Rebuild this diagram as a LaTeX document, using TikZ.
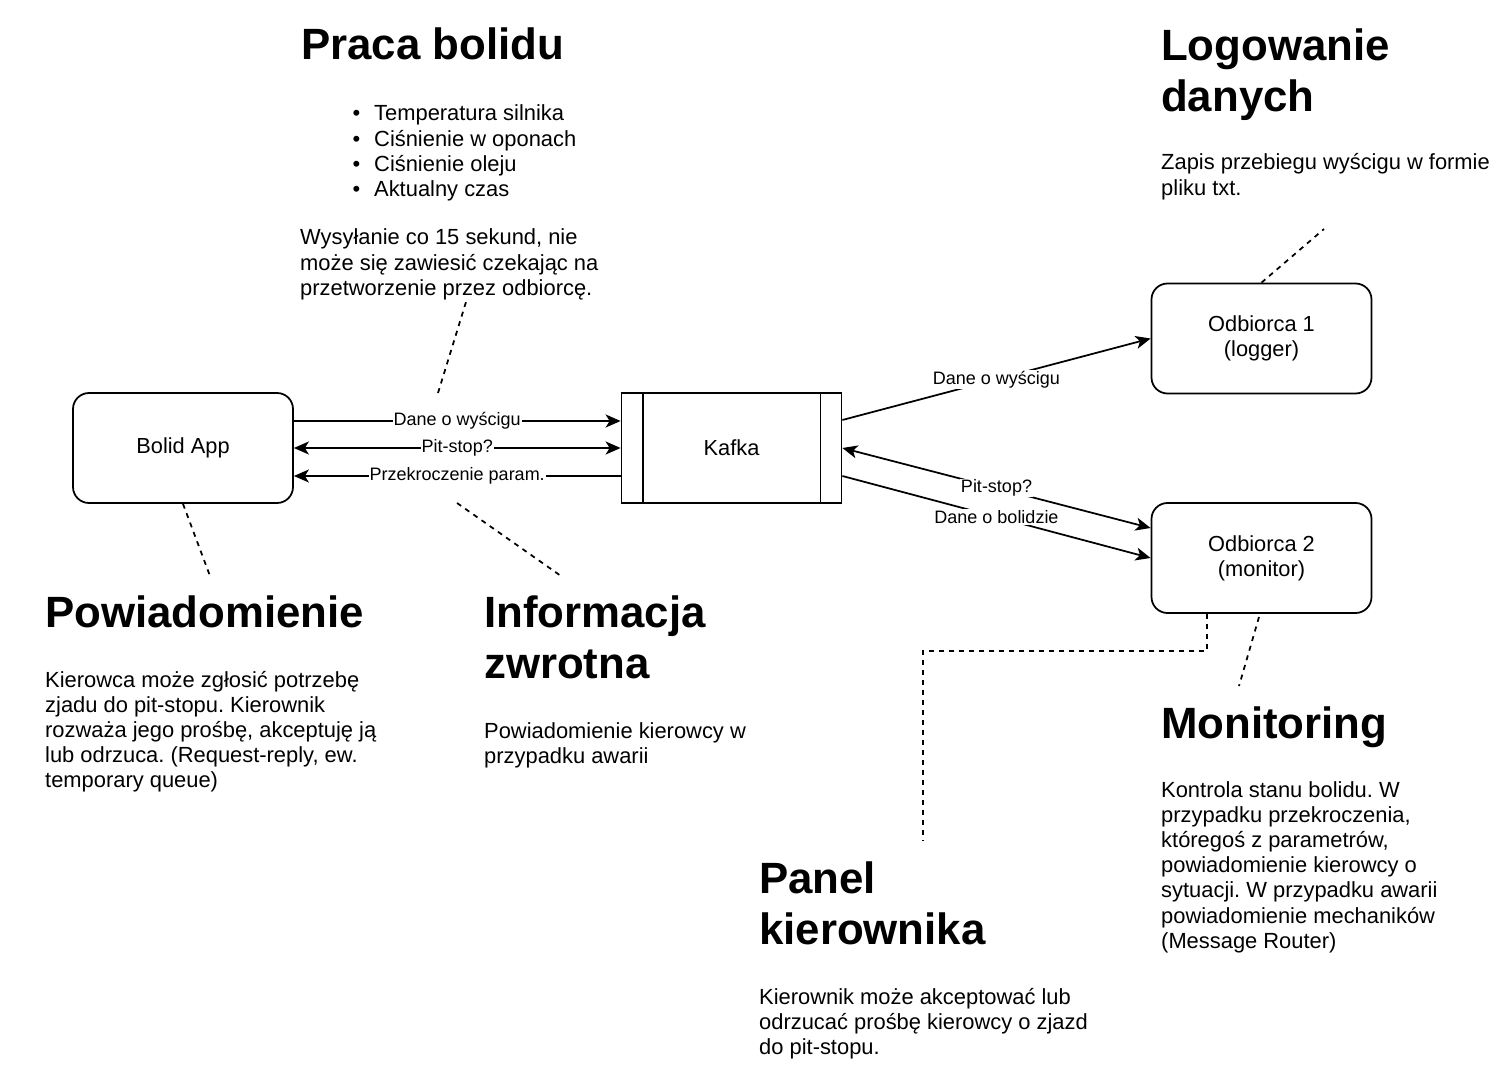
\documentclass[tikz,border=0pt]{standalone}
\usepackage{fontspec}
\setmainfont{Liberation Sans}
\usetikzlibrary{arrows.meta,calc}
\frenchspacing
\newcommand{\txtblk}[1]{\parbox[t]{520pt}{\raggedright\frenchspacing #1}}
\newcommand{\mybul}{\makebox[26pt][l]{\hspace{4.5pt}•}}
\begin{document}
\begin{tikzpicture}[x=1pt,y=-1pt,
  box/.style={draw, line width=1.75pt, rounded corners=16pt, minimum width=220pt, minimum height=110pt, inner sep=0pt, align=center, font=\fontsize{21.8}{25}\selectfont},
  edge/.style={line width=1.75pt},
  tip/.tip={Stealth[length=15pt,width=13pt,inset=4pt]},
  lbl/.style={fill=white, inner sep=1pt, font=\fontsize{18}{21}\selectfont},
  dsh/.style={line width=1.75pt, dash pattern=on 5pt off 5pt},
  head/.style={anchor=base west, inner sep=0pt, font=\fontsize{43.8}{51}\selectfont\bfseries},
  body/.style={anchor=base west, inner sep=0pt, font=\fontsize{21.9}{25.2}\selectfont}]
\useasboundingbox[fill=white] (0,0) rectangle (1510,1067);

% boxes
\node[box] (bolid) at (183,448) {Bolid App};
\node[box, sharp corners] (kafka) at (731.5,448) {Kafka};
\node[box] (o1) at (1261.5,338.5) {Odbiorca 1\\(logger)};
\node[box] (o2) at (1261.5,558) {Odbiorca 2\\(monitor)};
\draw[edge] ([xshift=22pt]kafka.north west) -- ([xshift=22pt]kafka.south west);
\draw[edge] ([xshift=-22pt]kafka.north east) -- ([xshift=-22pt]kafka.south east);

% connectors left
\draw[edge, -tip] ([yshift=27pt]bolid.east) -- ([yshift=27pt]kafka.west) node[lbl, midway] (l1) {Dane o wyścigu};
\draw[edge, tip-tip] (bolid.east) -- (kafka.west) node[lbl, midway] (l2) {Pit-stop?};
\draw[edge, -tip] ([yshift=-28pt]kafka.west) -- ([yshift=-28pt]bolid.east) node[lbl, midway] (l3) {Przekroczenie param.};

% connectors right
\draw[edge, -tip] ([yshift=28pt]kafka.east) -- (o1.west) node[lbl, midway] (l4) {Dane o wyścigu};
\draw[edge, tip-tip] (kafka.east) -- ([yshift=30pt]o2.west) node[lbl, midway] (l5) {Pit-stop?};
\draw[edge, -tip] ([yshift=-28pt]kafka.east) -- (o2.west) node[lbl, midway] (l6) {Dane o bolidzie};

% dashed annotation links
\coordinate (d1a) at (438,393);
\coordinate (d1b) at (466,302);
\coordinate (d2b) at (210,576);
\coordinate (d3a) at (457,503);
\coordinate (d3b) at (561,576);
\coordinate (d4b) at (1324,229);
\coordinate (d5c) at (923,840);
\coordinate (d6a) at (1259,617);
\coordinate (d6b) at (1239,686);
\draw[dsh] (d1a) -- (d1b);
\draw[dsh] (bolid.south) -- (d2b);
\draw[dsh] (d3a) -- (d3b);
\draw[dsh] (o1.north) -- (d4b);
\draw[dsh] ([xshift=-54.5pt]o2.south) -- ++(0,37) -| (d5c);
\draw[dsh] (d6a) -- (d6b);

% text blocks
\node[head] (h1) at (301,60) {Praca bolidu};
\node[body] (t1) at (348,121) {\txtblk{\mybul Temperatura silnika\\\mybul Ciśnienie w oponach\\\mybul Ciśnienie oleju\\\mybul Aktualny czas}};
\node[body] (t1b) at (300,245) {\txtblk{Wysyłanie co 15 sekund, nie\\może się zawiesić czekając na\\przetworzenie przez odbiorcę.}};

\node[head] (h2) at (1161,61) {\txtblk{Logowanie\\danych}};
\node[body] (t2) at (1161,170) {\txtblk{Zapis przebiegu wyścigu w formie\\pliku txt.}};

\node[head] (h3) at (45,627) {Powiadomienie};
\node[body] (t3) at (45,687) {\txtblk{Kierowca może zgłosić potrzebę\\zjadu do pit-stopu. Kierownik\\rozważa jego prośbę, akceptuję ją\\lub odrzuca. (Request-reply, ew.\\temporary queue)}};

\node[head] (h4) at (484,627) {\txtblk{Informacja\\zwrotna}};
\node[body] (t4) at (484,738) {\txtblk{Powiadomienie kierowcy w\\przypadku awarii}};

\node[head] (h5) at (1161,738) {Monitoring};
\node[body] (t5) at (1161,797) {\txtblk{Kontrola stanu bolidu. W\\przypadku przekroczenia,\\któregoś z parametrów,\\powiadomienie kierowcy o\\sytuacji. W przypadku awarii\\powiadomienie mechaników\\(Message Router)}};

\node[head] (h6) at (759,893) {\txtblk{Panel\\kierownika}};
\node[body] (t6) at (759,1004) {\txtblk{Kierownik może akceptować lub\\odrzucać prośbę kierowcy o zjazd\\do pit-stopu.}};
\end{tikzpicture}
\end{document}
